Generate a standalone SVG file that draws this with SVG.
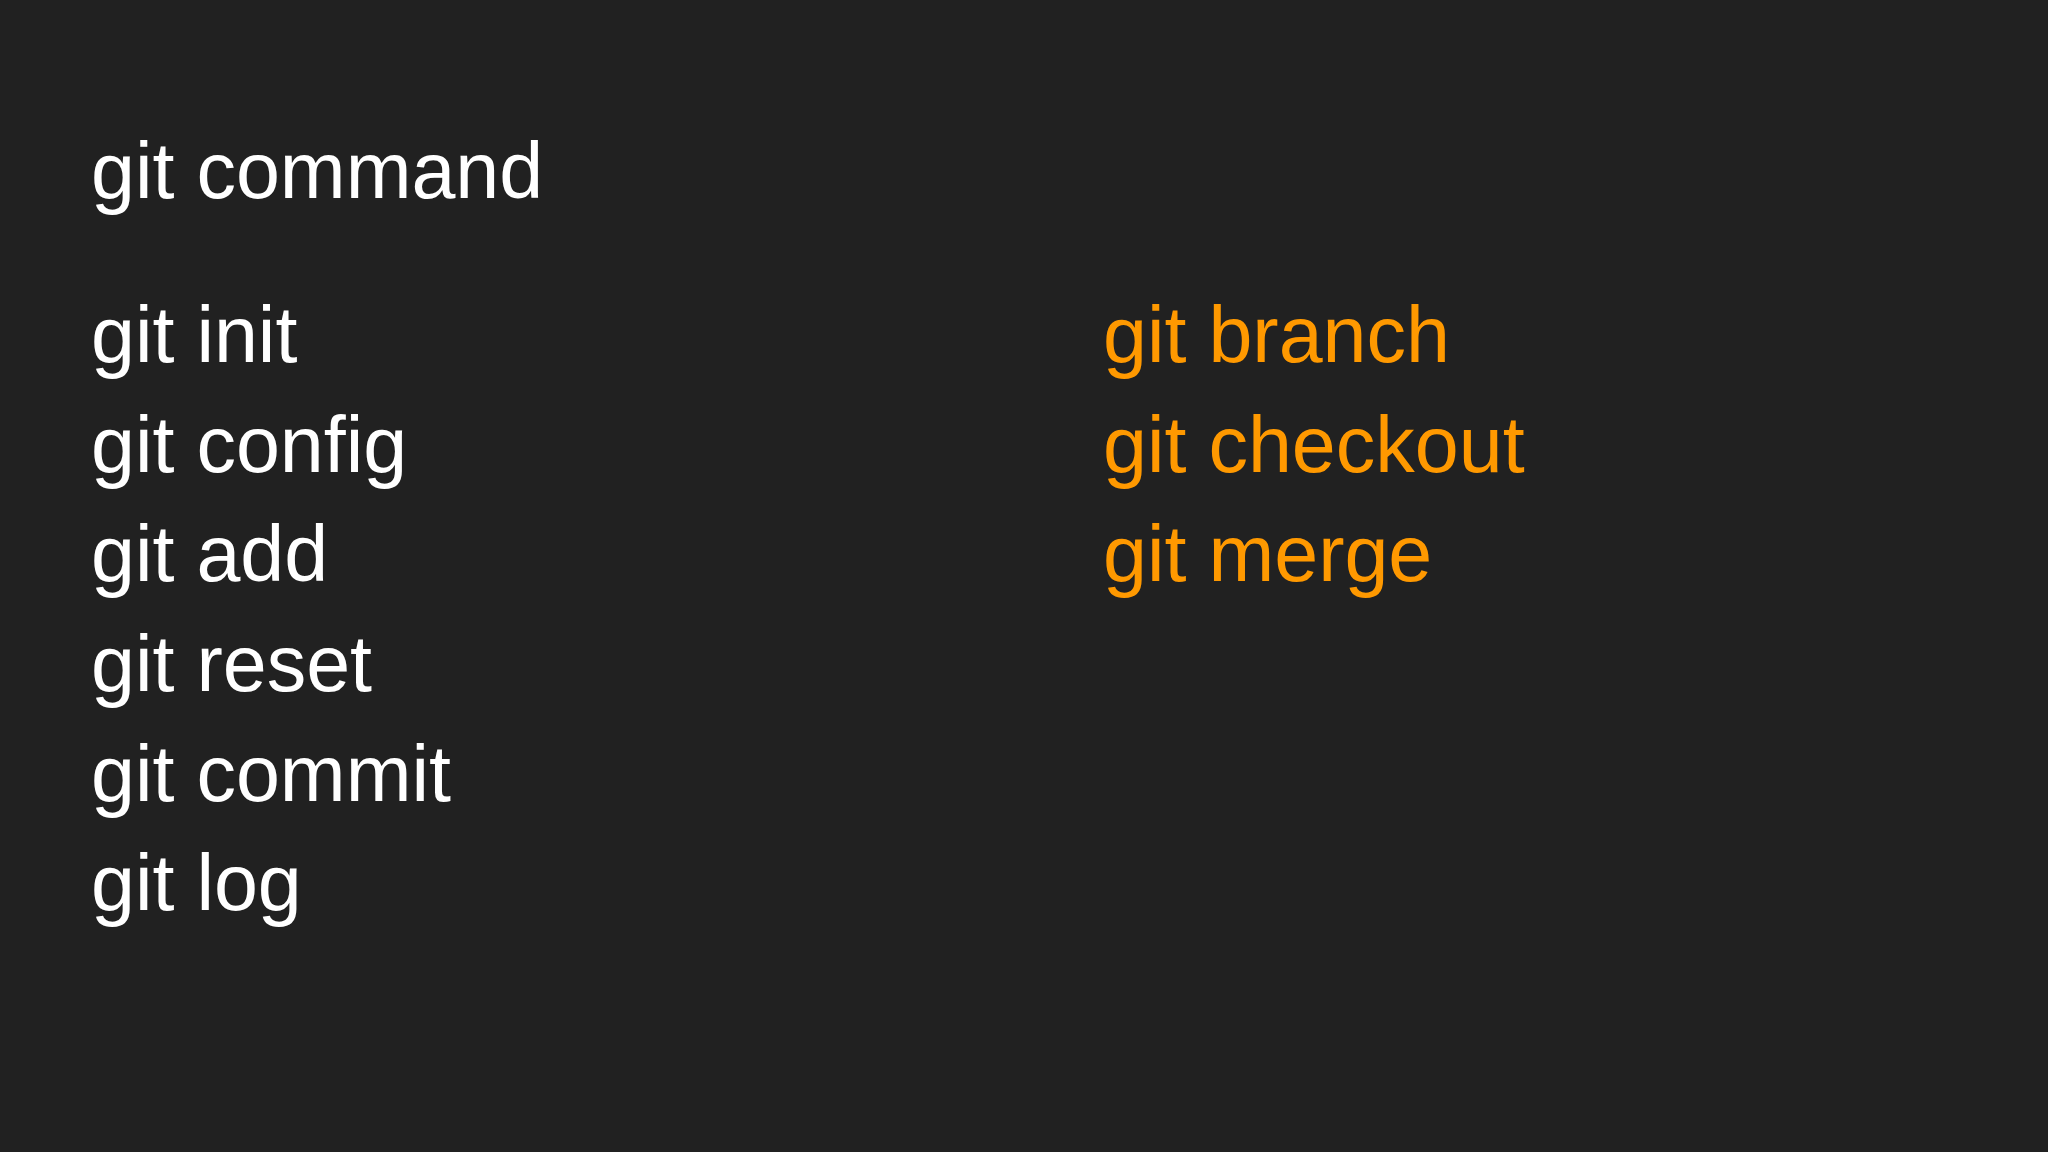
<svg xmlns="http://www.w3.org/2000/svg" width="2048" height="1152" viewBox="0 0 2048 1152">
<style>
text{font-family:"Liberation Sans",Arial,sans-serif;font-size:79px}
.w{fill:#ffffff}.o{fill:#ff9900}
</style>
<rect width="2048" height="1152" fill="#212121"/>
<g id="title"><text class="w" x="91" y="198">git command</text></g>
<g id="left">
<text class="w" x="91" y="362">git init</text>
<text class="w" x="91" y="472">git config</text>
<text class="w" x="91" y="581">git add</text>
<text class="w" x="91" y="691">git reset</text>
<text class="w" x="91" y="801">git commit</text>
<text class="w" x="91" y="910">git log</text>
</g>
<g id="right">
<text class="o" x="1103" y="362">git branch</text>
<text class="o" x="1103" y="472">git checkout</text>
<text class="o" x="1103" y="581">git merge</text>
</g>
<g id="connectors"/>
</svg>
